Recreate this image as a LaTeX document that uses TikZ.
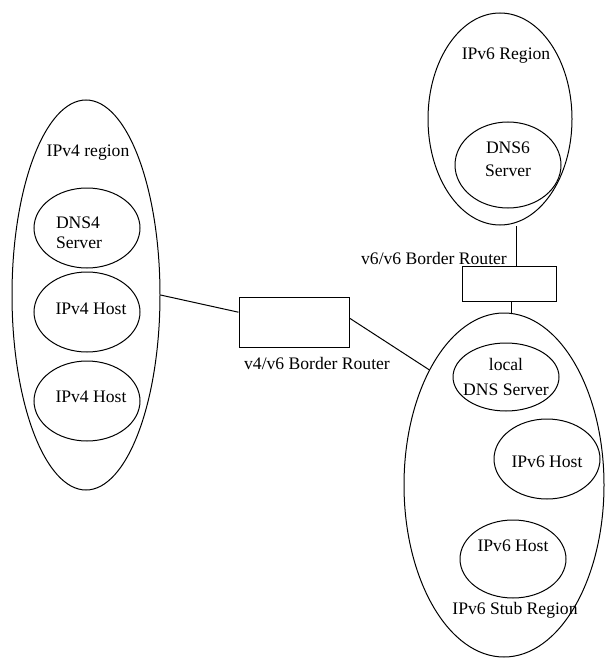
\documentclass[tikz,border=0pt]{standalone}
\usepackage{fontspec}
\setmainfont{Liberation Serif}
\usetikzlibrary{shapes.geometric,calc}
\begin{document}
\begin{tikzpicture}[x=0.5pt,y=-0.5pt,
  line width=0.5pt,
  txt/.style={inner sep=0pt,font=\fontsize{8.8}{10}\selectfont,align=center},
  region/.style={draw,ellipse,inner sep=0pt},
  host/.style={draw,ellipse,inner sep=0pt,minimum width=53pt,minimum height=40pt},
  router/.style={draw,rectangle,inner sep=0pt}]
\useasboundingbox (0,0) rectangle (605,658);
% IPv4 region
\node[region,minimum width=74pt,minimum height=195pt] (v4reg) at (86,295) {};
\node[txt] (v4t) at (88,153) {IPv4 region};
\node[host] (dns4) at (87,228) {};
\node[txt,align=left] (dns4t) at (79,233) {DNS4\\Server};
\node[host] (h41) at (87,312) {};
\node[txt] (h41t) at (91,309) {IPv4 Host};
\node[host] (h42) at (87,401) {};
\node[txt] (h42t) at (91,397) {IPv4 Host};
% v4/v6 router
\node[router,minimum width=55pt,minimum height=25pt] (br46) at (294,322) {};
\node[txt] (br46t) at (317,363) {v4/v6 Border Router};
% IPv6 region
\node[region,minimum width=72pt,minimum height=106pt] (v6reg) at (500,119) {};
\node[txt] (v6t) at (506,56) {IPv6 Region};
\node[host,minimum height=43pt] (dns6) at (508,165) {};
\node[txt] (dns6t) at (508,159) {DNS6\\[1.5pt]Server};
% v6/v6 router
\node[router,minimum width=47pt,minimum height=17.5pt] (br66) at (509,284) {};
\node[txt] (br66t) at (434,258) {v6/v6 Border Router};
% IPv6 stub region
\node[region,minimum width=100pt,minimum height=172pt] (stub) at (504,485) {};
\node[host,minimum height=34pt] (ldns) at (506,377) {};
\node[txt] (ldnst) at (506,377) {local\\[2.5pt]DNS Server};
\node[host] (h61) at (547,459) {};
\node[txt] (h61t) at (547,462) {IPv6 Host};
\node[host,minimum height=39pt] (h62) at (513,559) {};
\node[txt] (h62t) at (513,546) {IPv6 Host};
\node[txt] (stubt) at (515,610) {IPv6 Stub Region};
% connectors
\draw (v4reg.east) -- (br46.170);
\draw (br46.4) -- (stub.123);
\draw ([xshift=3.5pt]br66.north) -- ([xshift=3.5pt]br66.north |- v6reg.south);
\draw ([xshift=1pt]br66.south) -- ([xshift=1pt]br66.south |- stub.north);
\end{tikzpicture}
\end{document}
